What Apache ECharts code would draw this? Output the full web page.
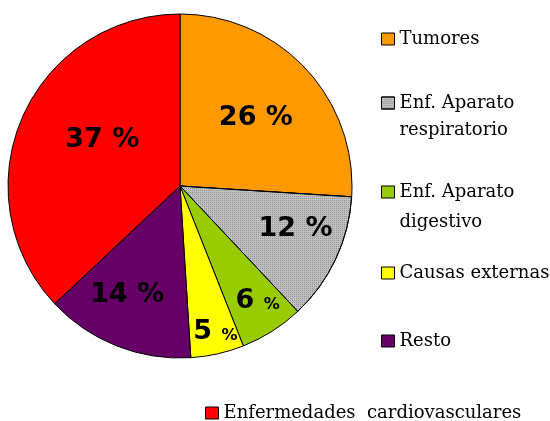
<!DOCTYPE html>
<html>
<head>
<meta charset="utf-8">
<script src="https://cdn.jsdelivr.net/npm/echarts@6/dist/echarts.min.js"></script>
<style>
html,body{margin:0;padding:0;background:#fff;}
#c{width:550px;height:421px;}
</style>
</head>
<body>
<div id="c"></div>
<script>
const categories = ['Tumores', 'Enf. Aparato\nrespiratorio', 'Enf. Aparato\ndigestivo', 'Causas externas', 'Resto', 'Enfermedades  cardiovasculares'];
const values = [26, 12, 6, 5, 14, 37];
const colors = ['#FF9900', '#C0C0C0', '#99CC00', '#FFFF00', '#660066', '#FF0000'];

// style / layout helpers (not data)
const labelOffsets = [[11, -7], [35, 5], [30, 40], [16, 59], [-20, 26], [4, -11]];
const legendIconLeft = [381, 381, 381, 381, 381, 205];
const legendIconTop = [33, 97, 186, 267, 335, 407];
const legendLineHeight = [26, 27, 30, 26, 26, 26];

const chart = echarts.init(document.getElementById('c'), null, {renderer: 'canvas'});

const data = categories.map((name, i) => {
  const item = {
    name: name,
    value: values[i],
    itemStyle: {color: colors[i]},
    label: {offset: labelOffsets[i]}
  };
  if (i === 1) {
    item.itemStyle.decal = {
      symbol: 'rect',
      symbolSize: 1,
      color: 'rgba(110,110,110,0.55)',
      dashArrayX: [1, 1],
      dashArrayY: [1, 1],
      rotation: 0
    };
  }
  return item;
});

const legends = categories.map((name, i) => {
  const lh = legendLineHeight[i];
  const twoLine = name.indexOf('\n') >= 0;
  const iconH = 12;
  const off = twoLine ? (iconH / 2 - 1.5 * lh) : (iconH / 2 - lh / 2);
  return {
    left: legendIconLeft[i],
    top: legendIconTop[i] + off,
    padding: 0,
    orient: 'vertical',
    itemWidth: 13,
    itemHeight: iconH,
    selectedMode: false,
    icon: 'rect',
    data: [name],
    formatter: function (n) { return twoLine ? ' \n' + n : n; },
    itemStyle: {borderColor: '#000', borderWidth: 1},
    textStyle: {
      fontFamily: 'DejaVu Serif',
      fontSize: 18,
      color: '#000',
      lineHeight: lh
    }
  };
});

chart.setOption({
  animation: false,
  backgroundColor: '#fff',
  legend: legends,
  series: [{
    type: 'pie',
    center: [180, 186],
    radius: 172,
    startAngle: 90,
    clockwise: true,
    avoidLabelOverlap: false,
    itemStyle: {borderColor: '#000', borderWidth: 1},
    emphasis: {disabled: true},
    labelLine: {show: false},
    label: {
      show: true,
      position: 'inside',
      color: '#000',
      fontFamily: 'DejaVu Sans',
      fontWeight: 'bold',
      fontSize: 27,
      formatter: function (p) {
        if (p.value < 10) {
          return '{n|' + p.value + '} {s|%}';
        }
        return '{n|' + p.value + ' %}';
      },
      rich: {
        n: {fontFamily: 'DejaVu Sans', fontWeight: 'bold', fontSize: 27, color: '#000'},
        s: {fontFamily: 'DejaVu Sans', fontWeight: 'bold', fontSize: 16, color: '#000', verticalAlign: 'bottom', padding: [0, 0, 2, 0]}
      }
    },
    data: data
  }]
});
</script>
</body>
</html>
